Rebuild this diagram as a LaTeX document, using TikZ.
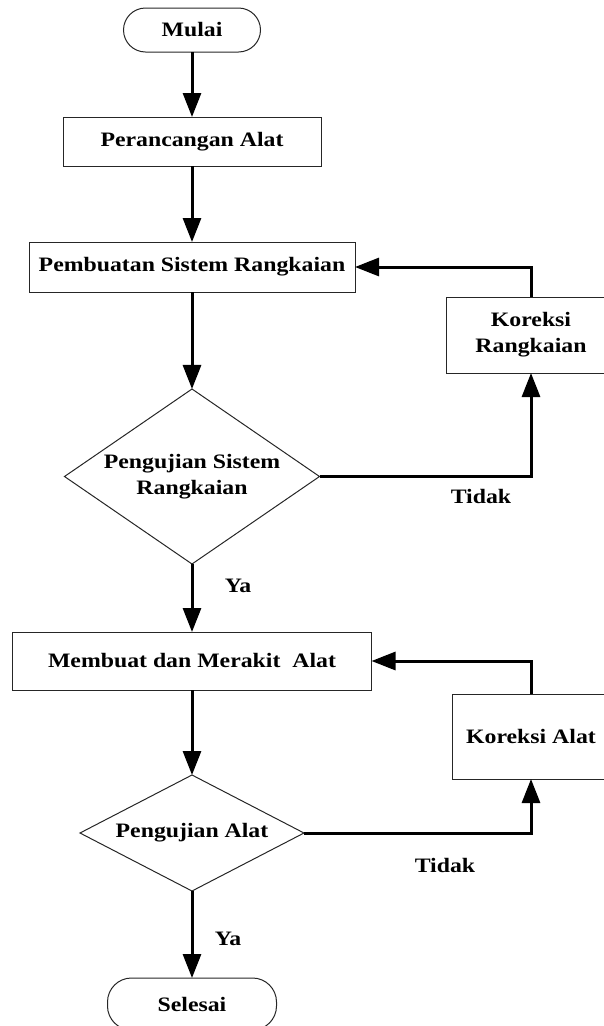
\documentclass[tikz,border=0pt]{standalone}
\usepackage{fontspec}
\setmainfont{Liberation Serif}[FakeStretch=1.16]
\usetikzlibrary{arrows.meta,shapes.geometric}
\begin{document}
\begin{tikzpicture}[x=1pt,y=-1pt,
  every node/.style={font=\fontsize{20.5}{26}\selectfont\bfseries, inner sep=0pt, outer sep=0pt},
  box/.style={draw=black!85, line width=1pt, rectangle, align=center},
  term/.style={draw=black!85, line width=1pt, rectangle, rounded corners=22pt},
  dec/.style={draw=black!85, line width=1pt, diamond, align=center},
  arr/.style={line width=3pt, -{Triangle[length=24pt,width=18pt]}},
  lab/.style={}
]
\useasboundingbox (0,0) rectangle (603,1026);

\node[term, minimum width=137pt, minimum height=44pt] (mulai) at (192,30) {Mulai};
\node[box, minimum width=258pt, minimum height=49pt] (perancangan) at (192,141.5) {Perancangan Alat};
\node[box, minimum width=326pt, minimum height=50pt] (pembuatan) at (192,267) {Pembuatan Sistem Rangkaian};
\node[box, minimum width=170pt, minimum height=76pt] (koreksi1) at (531,335) {Koreksi\\Rangkaian};
\node[dec, shape aspect=1.46, minimum width=255pt, minimum height=175pt] (uji1) at (192,476.5) {Pengujian Sistem\\Rangkaian};
\node[box, minimum width=359pt, minimum height=58pt] (membuat) at (192,661) {Membuat dan Merakit\ \ Alat};
\node[box, minimum width=158pt, minimum height=85pt] (koreksi2) at (531,736.5) {Koreksi Alat};
\node[dec, shape aspect=1.93, minimum width=224pt, minimum height=116pt] (uji2) at (192,833) {Pengujian Alat};
\node[term, minimum width=169pt, minimum height=52pt, rounded corners=24pt] (selesai) at (192,1004) {Selesai};

\node[lab] (tidak1) at (481,496) {Tidak};
\node[lab] (ya1) at (238,586) {Ya};
\node[lab] (tidak2) at (445,865) {Tidak};
\node[lab] (ya2) at (228,939) {Ya};

\draw[arr] (mulai) -- (perancangan);
\draw[arr] (perancangan) -- (pembuatan);
\draw[arr] (pembuatan) -- (uji1);
\draw[arr] (uji1) -- (membuat);
\draw[arr] (membuat) -- (uji2);
\draw[arr] (uji2) -- (selesai);
\draw[arr] (uji1.east) -| (koreksi1.south);
\draw[arr] (koreksi1.north) |- (pembuatan.east);
\draw[arr] (uji2.east) -| (koreksi2.south);
\draw[arr] (koreksi2.north) |- (membuat.east);
\end{tikzpicture}
\end{document}
